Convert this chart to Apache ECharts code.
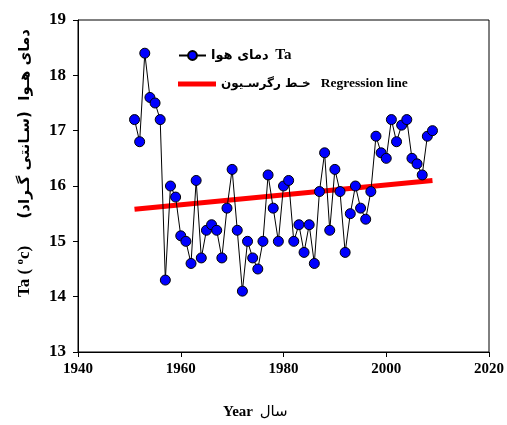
<!DOCTYPE html>
<html>
<head>
<meta charset="utf-8">
<script src="https://cdn.jsdelivr.net/npm/echarts@6/dist/echarts.min.js"></script>
<style>html,body{margin:0;padding:0;background:#fff;}#c{width:507px;height:425px;}</style>
</head>
<body>
<div id="c"></div>
<script>
var years = [1951,1952,1953,1954,1955,1956,1957,1958,1959,1960,1961,1962,1963,1964,1965,1966,1967,1968,1969,1970,1971,1972,1973,1974,1975,1976,1977,1978,1979,1980,1981,1982,1983,1984,1985,1986,1987,1988,1989,1990,1991,1992,1993,1994,1995,1996,1997,1998,1999,2000,2001,2002,2003,2004,2005,2006,2007,2008,2009];
var temps = [17.2,16.8,18.4,17.6,17.5,17.2,14.3,16.0,15.8,15.1,15.0,14.6,16.1,14.7,15.2,15.3,15.2,14.7,15.6,16.3,15.2,14.1,15.0,14.7,14.5,15.0,16.2,15.6,15.0,16.0,16.1,15.0,15.3,14.8,15.3,14.6,15.9,16.6,15.2,16.3,15.9,14.8,15.5,16.0,15.6,15.4,15.9,16.9,16.6,16.5,17.2,16.8,17.1,17.2,16.5,16.4,16.2,16.9,17.0];
var regYears = [1951, 2009];
var regValues = [15.58, 16.10];
var xTicks = [1940, 1960, 1980, 2000, 2020];
var yTicks = [13, 14, 15, 16, 17, 18, 19];

var serif = "'Liberation Serif', 'Times New Roman', 'DejaVu Sans', serif";
var fa = "'DejaVu Sans', 'Noto Sans', sans-serif";

var chart = echarts.init(document.getElementById('c'), null, {renderer: 'canvas'});
var tempData = years.map(function (y, i) { return [y, temps[i]]; });
var regData = regYears.map(function (y, i) { return [y, regValues[i]]; });

chart.setOption({
  animation: false,
  backgroundColor: '#fff',
  grid: {left: 78, right: 18, top: 20, bottom: 73, show: true, borderColor: '#000', borderWidth: 1, backgroundColor: 'transparent'},
  xAxis: {
    type: 'value', min: xTicks[0], max: xTicks[xTicks.length - 1], interval: 20,
    axisLine: {lineStyle: {color: '#000', width: 1}},
    axisTick: {show: true, length: 5, inside: false, lineStyle: {color: '#000'}},
    splitLine: {show: false},
    axisLabel: {color: '#000', fontFamily: serif, fontWeight: 'bold', fontSize: 15, margin: 10,
      formatter: function (v) { return String(v); }}
  },
  yAxis: {
    type: 'value', min: yTicks[0], max: yTicks[yTicks.length - 1], interval: 1,
    axisLine: {show: true, lineStyle: {color: '#000', width: 1}},
    axisTick: {show: true, length: 5, lineStyle: {color: '#000'}},
    splitLine: {show: false},
    axisLabel: {color: '#000', fontFamily: serif, fontWeight: 'bold', fontSize: 17, margin: 12}
  },
  legend: [
    {
      data: ['temp'], orient: 'vertical', left: 173, top: 43,
      itemWidth: 27, itemHeight: 11, itemGap: 10,
      formatter: function () { return '{f|دمای هوا}  {e|Ta}'; },
      textStyle: {rich: {
        f: {fontFamily: fa, fontWeight: 'bold', fontSize: 13, color: '#000'},
        e: {fontFamily: serif, fontWeight: 'bold', fontSize: 15, color: '#000'}
      }}
    },
    {
      data: [{name: 'reg', icon: 'rect', itemStyle: {color: '#ff0000'}}], orient: 'vertical', left: 173, top: 72,
      itemWidth: 38, itemHeight: 5, itemGap: 8,
      formatter: function () { return '{f|خـط رگرسـیون}   {e|Regression line}'; },
      textStyle: {rich: {
        f: {fontFamily: fa, fontWeight: 'bold', fontSize: 12, color: '#000'},
        e: {fontFamily: serif, fontWeight: 'bold', fontSize: 13.5, color: '#000'}
      }}
    }
  ],
  series: [
    {
      name: 'temp', type: 'line', data: tempData,
      symbol: 'circle', symbolSize: 10,
      lineStyle: {color: '#000', width: 1},
      itemStyle: {color: '#0000ff', borderColor: '#000', borderWidth: 1},
      z: 3
    },
    {
      name: 'reg', type: 'line', data: regData,
      symbol: 'none',
      lineStyle: {color: '#ff0000', width: 5},
      itemStyle: {color: '#ff0000'},
      z: 2
    }
  ],
  graphic: [
    {
      type: 'text', x: 25, y: 163, rotation: Math.PI / 2,
      style: {
        text: '{b|Ta ( }{sup|o}{b|c)}{sp|       }{f|دمای هـوا  (سـانتی گـراد)}',
        align: 'center', verticalAlign: 'middle',
        rich: {
          b: {fontFamily: serif, fontWeight: 'bold', fontSize: 17, fill: '#000'},
          sup: {fontFamily: serif, fontWeight: 'bold', fontSize: 11, fill: '#000', padding: [0, 0, 9, 0]},
          sp: {fontSize: 14},
          f: {fontFamily: fa, fontWeight: 'bold', fontSize: 15, fill: '#000'}
        }
      }
    },
    {
      type: 'text', left: 223, top: 405,
      style: {
        text: '{e|Year}  {f|سال}',
        rich: {
          e: {fontFamily: serif, fontWeight: 'bold', fontSize: 15, fill: '#000'},
          f: {fontFamily: fa, fontSize: 15, fill: '#000'}
        }
      }
    }
  ]
});
</script>
</body>
</html>
